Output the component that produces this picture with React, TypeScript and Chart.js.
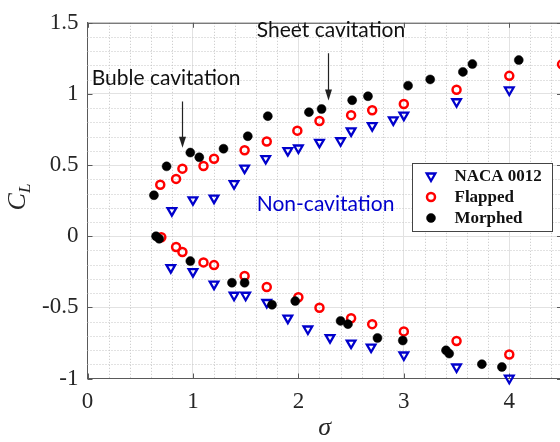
import React, { useEffect, useRef } from 'react';
import { Chart, registerables } from 'chart.js';

Chart.register(...registerables);

// ---------- data ----------
const NACA_SIGMA = [0.80, 1.0, 1.2, 1.39, 1.49, 1.69, 1.90, 2.0, 2.2, 2.4, 2.5, 2.7, 2.9, 3.0, 3.5, 4.0,
  0.79, 1.0, 1.2, 1.39, 1.5, 1.7, 1.9, 2.09, 2.3, 2.5, 2.69, 3.0, 3.5, 4.0];
const NACA_CL = [0.18, 0.256, 0.268, 0.369, 0.479, 0.546, 0.602, 0.62, 0.66, 0.671, 0.74, 0.777, 0.818, 0.851, 0.945, 1.028,
  -0.221, -0.249, -0.337, -0.415, -0.415, -0.466, -0.576, -0.652, -0.713, -0.751, -0.779, -0.835, -0.919, -0.998];

const FLAPPED_SIGMA = [0.69, 0.84, 0.90, 1.10, 1.20, 1.49, 1.70, 1.99, 2.20, 2.5, 2.7, 3.0, 3.5, 4.0, 4.5,
  0.70, 0.84, 0.90, 1.10, 1.20, 1.49, 1.70, 2.0, 2.2, 2.5, 2.7, 3.0, 3.5, 4.0];
const FLAPPED_CL = [0.362, 0.403, 0.475, 0.493, 0.544, 0.604, 0.666, 0.742, 0.81, 0.851, 0.885, 0.929, 1.03, 1.127, 1.208,
  -0.007, -0.076, -0.111, -0.184, -0.203, -0.279, -0.357, -0.429, -0.503, -0.576, -0.618, -0.669, -0.737, -0.831];

const MORPHED_SIGMA = [0.63, 0.75, 0.975, 1.06, 1.29, 1.52, 1.71, 2.10, 2.22, 2.51, 2.66, 3.04, 3.25, 3.56, 3.65, 4.09,
  0.65, 0.68, 0.975, 1.37, 1.49, 1.75, 1.97, 2.40, 2.47, 2.75, 2.99, 3.40, 3.43, 3.74, 3.93];
const MORPHED_CL = [0.288, 0.491, 0.588, 0.555, 0.615, 0.703, 0.844, 0.872, 0.894, 0.956, 0.984, 1.058, 1.102, 1.155, 1.21, 1.238,
  0.0, -0.018, -0.175, -0.327, -0.327, -0.482, -0.456, -0.595, -0.618, -0.715, -0.733, -0.802, -0.825, -0.899, -0.919];

const SERIES_LABELS = ['NACA 0012', 'Flapped', 'Morphed'];
const X_TICKS = [0, 1, 2, 3, 4];
const Y_TICKS = [-1, -0.5, 0, 0.5, 1, 1.5];
const X_MINOR_STEP = 0.2;
const Y_MINOR_STEP = 0.1;

const ANNOTATION_TEXTS = ['Buble cavitation', 'Sheet cavitation', 'Non-cavitation'];

// ---------- styles / layout ----------
const BLUE = '#0000cc';
const RED = '#ff0000';
const BLACK = '#000000';
const AXIS_COLOR = '#5a5a5a';
const TEXT_COLOR = '#262626';
const SERIF = "'Liberation Serif', 'Times New Roman', serif";
const SANS = "Lato, 'Open Sans', sans-serif";

const annotationLayout = [
  { x: 0.04, y: 1.11, color: '#111111' },
  { x: 1.605, y: 1.445, color: '#111111' },
  { x: 1.605, y: 0.222, color: BLUE },
];
const arrowLayout = [
  { x: 0.9, y0: 0.947, y1: 0.622 },
  { x: 2.28, y0: 1.286, y1: 0.954 },
];

const toPoints = (xs: number[], ys: number[]) => xs.map((x, i) => ({ x, y: ys[i] }));

function drawMarker(ctx: CanvasRenderingContext2D, ds: any, x: number, y: number) {
  ctx.save();
  ctx.lineWidth = ds.borderWidth;
  ctx.strokeStyle = ds.borderColor;
  ctx.fillStyle = ds.backgroundColor;
  const r = ds.pointRadius;
  ctx.beginPath();
  if (ds.pointStyle === 'triangle') {
    ctx.translate(x, y);
    ctx.rotate(Math.PI);
    ctx.moveTo(0, -r);
    ctx.lineTo(r * Math.sin(Math.PI / 3), r * 0.5);
    ctx.lineTo(-r * Math.sin(Math.PI / 3), r * 0.5);
    ctx.closePath();
  } else {
    ctx.arc(x, y, r, 0, Math.PI * 2);
  }
  ctx.fill();
  ctx.stroke();
  ctx.restore();
}

const decorPlugin = {
  id: 'matlabDecor',
  beforeDatasetsDraw(chart: any) {
    const { ctx, chartArea: a, scales } = chart;
    const xs = scales.x, ys = scales.y;
    ctx.save();
    ctx.strokeStyle = '#c4c4c4';
    ctx.lineWidth = 1;
    ctx.setLineDash([1, 2]);
    for (let i = 1; i * X_MINOR_STEP < xs.max - 1e-9; i++) {
      const v = i * X_MINOR_STEP;
      if (Math.abs(v - Math.round(v)) < 1e-6) continue;
      const px = Math.round(xs.getPixelForValue(v)) + 0.5;
      ctx.beginPath();
      ctx.moveTo(px, a.top);
      ctx.lineTo(px, a.bottom);
      ctx.stroke();
    }
    for (let i = 1; ys.min + i * Y_MINOR_STEP < ys.max - 1e-9; i++) {
      const v = ys.min + i * Y_MINOR_STEP;
      if (Math.abs(v * 2 - Math.round(v * 2)) < 1e-6) continue;
      const py = Math.round(ys.getPixelForValue(v)) + 0.5;
      ctx.beginPath();
      ctx.moveTo(a.left, py);
      ctx.lineTo(a.right, py);
      ctx.stroke();
    }
    ctx.restore();

    // box and inward ticks
    ctx.save();
    ctx.strokeStyle = AXIS_COLOR;
    ctx.lineWidth = 1;
    ctx.beginPath();
    ctx.moveTo(a.left, a.top + 0.5);
    ctx.lineTo(a.right, a.top + 0.5);
    ctx.moveTo(a.right - 0.5, a.top);
    ctx.lineTo(a.right - 0.5, a.bottom);
    const tl = 5;
    X_TICKS.forEach((v) => {
      const px = Math.round(xs.getPixelForValue(v)) + 0.5;
      ctx.moveTo(px, a.bottom);
      ctx.lineTo(px, a.bottom - tl);
      ctx.moveTo(px, a.top);
      ctx.lineTo(px, a.top + tl);
    });
    Y_TICKS.forEach((v) => {
      const py = Math.round(ys.getPixelForValue(v)) + 0.5;
      ctx.moveTo(a.left, py);
      ctx.lineTo(a.left + tl, py);
      ctx.moveTo(a.right, py);
      ctx.lineTo(a.right - tl, py);
    });
    ctx.stroke();
    ctx.restore();
  },
  afterDatasetsDraw(chart: any) {
    const { ctx, chartArea: a, scales } = chart;
    const xs = scales.x, ys = scales.y;

    // annotations
    ctx.save();
    ctx.font = `21px ${SANS}`;
    ctx.textAlign = 'left';
    ctx.textBaseline = 'middle';
    ANNOTATION_TEXTS.forEach((t, i) => {
      const L = annotationLayout[i];
      ctx.fillStyle = L.color;
      ctx.fillText(t, xs.getPixelForValue(L.x), ys.getPixelForValue(L.y));
    });
    // arrows
    ctx.strokeStyle = '#222';
    ctx.fillStyle = '#222';
    ctx.lineWidth = 1.2;
    arrowLayout.forEach((ar) => {
      const px = Math.round(xs.getPixelForValue(ar.x)) + 0.5;
      const p0 = ys.getPixelForValue(ar.y0);
      const p1 = ys.getPixelForValue(ar.y1);
      ctx.beginPath();
      ctx.moveTo(px, p0);
      ctx.lineTo(px, p1 - 8);
      ctx.stroke();
      ctx.beginPath();
      ctx.moveTo(px, p1);
      ctx.lineTo(px - 3.5, p1 - 11);
      ctx.lineTo(px + 3.5, p1 - 11);
      ctx.closePath();
      ctx.fill();
    });
    ctx.restore();

    // legend
    const lx = 412.5, ly = 163.5, lw = 140, lh = 68;
    ctx.save();
    ctx.fillStyle = '#ffffff';
    ctx.fillRect(lx, ly, lw, lh);
    ctx.strokeStyle = '#444';
    ctx.lineWidth = 1;
    ctx.strokeRect(lx, ly, lw, lh);
    ctx.font = `bold 17px ${SERIF}`;
    ctx.textAlign = 'left';
    ctx.textBaseline = 'middle';
    chart.data.datasets.forEach((ds: any, i: number) => {
      const ry = ly + 12.5 + i * 21;
      drawMarker(ctx, ds, lx + 18.5, ry);
      ctx.fillStyle = '#111';
      ctx.fillText(ds.label, lx + 42, ry + 1);
    });
    ctx.restore();

    // axis titles
    ctx.save();
    ctx.fillStyle = TEXT_COLOR;
    ctx.translate(25, 197);
    ctx.rotate(-Math.PI / 2);
    ctx.font = `italic 26px ${SERIF}`;
    const wC = ctx.measureText('C').width;
    ctx.font = `italic 17px ${SERIF}`;
    const wL = ctx.measureText('L').width;
    const start = -(wC + wL) / 2;
    ctx.font = `italic 26px ${SERIF}`;
    ctx.textBaseline = 'alphabetic';
    ctx.fillText('C', start, 0);
    ctx.font = `italic 17px ${SERIF}`;
    ctx.fillText('L', start + wC, 5);
    ctx.restore();

    ctx.save();
    ctx.fillStyle = TEXT_COLOR;
    ctx.font = `italic 26px ${SERIF}`;
    ctx.textAlign = 'center';
    ctx.textBaseline = 'alphabetic';
    ctx.fillText('σ', (a.left + a.right) / 2, 435);
    ctx.restore();
  },
};

export default function App() {
  const canvasRef = useRef<HTMLCanvasElement | null>(null);

  useEffect(() => {
    const canvas = canvasRef.current;
    if (!canvas) return;
    const chart = new Chart(canvas, {
      type: 'scatter',
      data: {
        datasets: [
          {
            label: SERIES_LABELS[0],
            data: toPoints(NACA_SIGMA, NACA_CL),
            pointStyle: 'triangle',
            rotation: 180,
            pointRadius: 5,
            pointHoverRadius: 5,
            borderWidth: 2.3,
            borderColor: BLUE,
            backgroundColor: 'rgba(255,255,255,0)',
            order: 2,
            clip: false,
          } as any,
          {
            label: SERIES_LABELS[1],
            data: toPoints(FLAPPED_SIGMA, FLAPPED_CL),
            pointStyle: 'circle',
            pointRadius: 4,
            pointHoverRadius: 4,
            borderWidth: 2.5,
            borderColor: RED,
            backgroundColor: 'rgba(255,255,255,0)',
            order: 1,
            clip: false,
          } as any,
          {
            label: SERIES_LABELS[2],
            data: toPoints(MORPHED_SIGMA, MORPHED_CL),
            pointStyle: 'circle',
            pointRadius: 4.5,
            pointHoverRadius: 4.5,
            borderWidth: 0.5,
            borderColor: BLACK,
            backgroundColor: BLACK,
            order: 0,
            clip: false,
          } as any,
        ],
      },
      options: {
        animation: false,
        responsive: false,
        maintainAspectRatio: false,
        events: [],
        layout: { padding: { top: 17, right: 58, bottom: 0, left: 0 } },
        plugins: {
          legend: { display: false },
          tooltip: { enabled: false },
        },
        scales: {
          x: {
            type: 'linear',
            min: 0,
            max: 4.5,
            afterBuildTicks: (s: any) => {
              s.ticks = X_TICKS.map((v) => ({ value: v }));
            },
            afterFit: (s: any) => {
              s.height = 63.5;
            },
            ticks: {
              font: { family: SERIF, size: 23 },
              color: TEXT_COLOR,
              padding: 10,
              maxRotation: 0,
              autoSkip: false,
              callback: (v: any) => String(v),
            },
            grid: { color: '#e2e2e2', drawTicks: false, lineWidth: 1 },
            border: { display: true, color: AXIS_COLOR, width: 1 },
          },
          y: {
            type: 'linear',
            min: -1,
            max: 1.5,
            afterBuildTicks: (s: any) => {
              s.ticks = Y_TICKS.map((v) => ({ value: v }));
            },
            afterFit: (s: any) => {
              s.width = 87.5;
            },
            ticks: {
              font: { family: SERIF, size: 23 },
              color: TEXT_COLOR,
              padding: 9,
              autoSkip: false,
              callback: (v: any) => String(v),
            },
            grid: { color: '#e2e2e2', drawTicks: false, lineWidth: 1 },
            border: { display: true, color: AXIS_COLOR, width: 1 },
          },
        },
      },
      plugins: [decorPlugin],
    });
    return () => chart.destroy();
  }, []);

  return (
    <div style={{ position: 'fixed', left: 0, top: 0, width: 560, height: 442, overflow: 'hidden', background: '#fff' }}>
      <canvas ref={canvasRef} width={620} height={442} style={{ display: 'block', width: 620, height: 442 }} />
    </div>
  );
}
